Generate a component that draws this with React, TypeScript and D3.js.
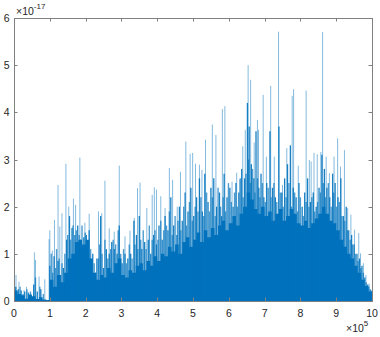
import React, { useEffect, useRef } from 'react';
import * as d3 from 'd3';

// x in units of 1e5 samples, y in units of 1e-17
const xTicks = [0, 1, 2, 3, 4, 5, 6, 7, 8, 9, 10];
const yTicks = [0, 1, 2, 3, 4, 5, 6];

// dense part of the signal, one level per 1e4 samples
const bodyLevels = [
  0.22, 0.15, 0.12, 0.05, 0.14, 0.1, 0.04, 0.08, 0.03, 0.02,
  0.45, 0.3, 0.55, 0.4, 0.6, 0.9, 1.0, 1.25, 1.3, 1.2,
  1.3, 0.9, 0.6, 0.45, 0.55, 0.5, 0.7, 0.6, 0.8, 0.9,
  0.55, 0.5, 0.65, 0.6, 0.75, 0.8, 0.65, 0.85, 0.75, 0.95,
  0.85, 1.0, 0.95, 1.15, 1.05, 1.2, 1.0, 1.25, 1.35, 1.15,
  1.3, 1.45, 1.25, 1.5, 1.35, 1.55, 1.4, 1.6, 1.7, 1.5,
  1.65, 1.8, 1.6, 1.85, 2.0, 2.3, 2.15, 1.95, 1.85, 2.0,
  1.8, 1.9, 1.7, 1.85, 1.95, 1.7, 1.8, 1.95, 1.85, 1.65,
  1.6, 1.7, 1.55, 1.65, 1.75, 1.85, 2.0, 1.85, 1.7, 1.65,
  1.5, 1.3, 1.15, 1.0, 0.9, 0.75, 0.6, 0.45, 0.32, 0.2,
];

// darker mid-height peaks
const midX = [
  0.05, 0.12, 0.2, 0.3, 0.4, 0.55, 0.65, 0.75,
  1.0, 1.12, 1.23, 1.3, 1.38, 1.47, 1.55, 1.62, 1.7, 1.78, 1.86, 1.95,
  2.02, 2.1, 2.2, 2.28, 2.35, 2.42, 2.5, 2.58, 2.66, 2.73, 2.8, 2.88, 2.94,
  3.02, 3.1, 3.18, 3.26, 3.35, 3.42, 3.5, 3.57, 3.65, 3.75, 3.82, 3.9, 3.98,
  4.05, 4.14, 4.22, 4.3, 4.38, 4.46, 4.55, 4.62, 4.7, 4.78, 4.86, 4.94,
  5.02, 5.1, 5.18, 5.26, 5.33, 5.42, 5.5, 5.58, 5.66, 5.74, 5.8, 5.87, 5.95,
  6.03, 6.12, 6.2, 6.28, 6.36, 6.44, 6.52, 6.57, 6.63, 6.7, 6.76, 6.84, 6.9, 6.98,
  7.06, 7.15, 7.22, 7.3, 7.4, 7.48, 7.56, 7.64, 7.72, 7.8, 7.88, 7.96,
  8.05, 8.12, 8.2, 8.28, 8.36, 8.44, 8.52, 8.6, 8.67, 8.74, 8.82, 8.9, 8.97,
  9.05, 9.13, 9.2, 9.28, 9.35, 9.43, 9.5, 9.58, 9.65, 9.72, 9.8, 9.88, 9.95,
];
const midY = [
  0.3, 0.25, 0.22, 0.2, 0.18, 0.35, 0.2, 0.25,
  0.75, 0.95, 0.85, 0.55, 0.7, 1.3, 1.8, 1.55, 1.4, 1.6, 1.3, 1.35,
  1.4, 1.5, 1.0, 0.6, 0.9, 1.8, 0.7, 1.1, 1.0, 1.25, 1.1, 1.0, 1.6,
  0.8, 1.0, 0.9, 1.0, 1.7, 1.4, 1.8, 1.1, 1.25, 1.3, 1.0, 1.4, 1.2,
  1.6, 1.3, 1.8, 1.5, 2.2, 1.6, 1.4, 2.0, 1.7, 2.3, 1.9, 2.4,
  1.8, 2.2, 2.6, 1.9, 2.7, 2.1, 2.4, 2.6, 2.0, 2.3, 1.8, 2.7, 2.2,
  2.4, 2.0, 2.5, 2.3, 2.8, 2.6, 4.2, 3.7, 2.9, 2.6, 3.6, 2.4, 2.7, 2.2,
  2.5, 3.6, 2.4, 2.2, 3.7, 2.3, 2.6, 2.9, 3.3, 2.4, 2.2, 2.5,
  2.0, 2.3, 2.6, 2.1, 2.3, 2.0, 2.4, 3.1, 2.8, 2.4, 2.2, 2.7, 2.5,
  2.2, 2.6, 1.8, 2.0, 1.5, 1.4, 1.2, 1.0, 0.9, 0.75, 0.5, 0.35, 0.25,
];

// in-between peaks that fill the busy middle band
const fillX = [
  0.08, 0.17, 0.25, 0.36, 0.46, 0.6, 0.72, 0.82,
  1.04, 1.08, 1.16, 1.19, 1.26, 1.34, 1.42, 1.5, 1.58, 1.65, 1.74, 1.82, 1.9, 1.99,
  2.06, 2.14, 2.24, 2.31, 2.39, 2.46, 2.54, 2.62, 2.7, 2.77, 2.84, 2.91, 2.98,
  3.06, 3.14, 3.22, 3.3, 3.38, 3.46, 3.54, 3.61, 3.69, 3.78, 3.86, 3.94,
  4.02, 4.1, 4.18, 4.26, 4.34, 4.42, 4.5, 4.58, 4.66, 4.74, 4.82, 4.9, 4.98,
  5.06, 5.14, 5.22, 5.3, 5.38, 5.46, 5.54, 5.62, 5.7, 5.77, 5.84, 5.91, 5.99,
  6.07, 6.16, 6.24, 6.32, 6.4, 6.48, 6.55, 6.6, 6.66, 6.73, 6.8, 6.87, 6.94,
  7.02, 7.1, 7.18, 7.26, 7.34, 7.44, 7.52, 7.6, 7.68, 7.75, 7.84, 7.92,
  8.0, 8.08, 8.16, 8.24, 8.32, 8.4, 8.48, 8.56, 8.64, 8.7, 8.78, 8.86, 8.93,
  9.01, 9.09, 9.16, 9.24, 9.31, 9.39, 9.46, 9.54, 9.61, 9.69, 9.76, 9.84, 9.91, 9.97,
];
const fillY = [
  0.2, 0.3, 0.15, 0.25, 0.2, 0.5, 0.3, 0.15,
  1.0, 0.6, 0.7, 1.1, 0.9, 0.8, 1.0, 1.4, 1.3, 1.6, 1.5, 1.4, 1.6, 1.45,
  1.2, 1.1, 0.8, 0.9, 1.2, 1.0, 1.3, 0.9, 1.1, 1.3, 1.2, 1.5, 1.0,
  1.1, 0.8, 1.2, 0.9, 1.2, 1.1, 1.3, 1.5, 1.1, 1.6, 1.3, 1.5,
  1.3, 1.7, 1.5, 1.6, 1.9, 1.4, 1.8, 1.7, 1.5, 2.0, 1.6, 2.1, 1.7,
  2.0, 1.9, 2.2, 1.8, 2.3, 1.9, 2.2, 1.8, 2.4, 2.0, 2.2, 1.9, 2.5,
  2.1, 2.3, 2.0, 2.6, 2.2, 2.7, 3.0, 2.5, 2.8, 2.3, 2.6, 2.2, 2.5,
  2.1, 2.4, 2.2, 2.5, 2.1, 2.3, 2.0, 2.2, 2.5, 2.0, 2.3, 1.9,
  2.2, 1.8, 2.1, 2.0, 2.2, 1.9, 2.1, 2.3, 2.5, 2.2, 2.5, 2.0, 2.3,
  2.0, 2.1, 1.8, 1.7, 1.5, 1.3, 1.2, 1.0, 0.85, 0.7, 0.6, 0.4, 0.3, 0.2,
];

// tall thin spikes
const peakX = [
  0.056, 0.14, 0.28, 0.35, 0.57, 0.6, 0.7, 0.86, 0.98, 1.0, 1.07, 1.13, 1.23, 1.28,
  1.34, 1.45, 1.53, 1.66, 1.72, 1.84, 1.98, 2.1, 2.36, 2.45, 2.54, 2.66, 2.8, 2.94,
  3.1, 3.24, 3.36, 3.45, 3.52, 3.71, 3.86, 3.92, 3.98, 4.1, 4.22, 4.34, 4.43, 4.56,
  4.65, 4.8, 4.92, 4.99, 5.07, 5.18, 5.25, 5.35, 5.54, 5.64, 5.82, 5.89, 6.09, 6.22,
  6.31, 6.39, 6.46, 6.54, 6.61, 6.71, 6.8, 6.83, 6.96, 7.05, 7.17, 7.27, 7.39, 7.5,
  7.62, 7.77, 7.81, 7.94, 8.16, 8.25, 8.3, 8.38, 8.47, 8.57, 8.62, 8.72, 8.81, 8.94,
  9.04, 9.12, 9.23, 9.32, 9.41, 9.51, 9.63, 9.68, 9.76, 9.83, 9.92, 9.98,
];
const peakY = [
  0.55, 0.41, 0.23, 0.3, 1.03, 0.87, 0.52, 0.46, 1.31, 1.5, 1.07, 1.72, 2.46, 1.58,
  1.86, 2.91, 2.0, 2.17, 2.04, 3.04, 1.66, 1.85, 1.9, 1.86, 2.55, 1.54, 1.47, 2.87,
  1.37, 1.49, 1.76, 2.39, 2.51, 1.97, 2.25, 2.41, 2.36, 2.22, 1.97, 2.82, 2.57, 2.0,
  2.74, 3.38, 3.12, 3.14, 2.91, 2.89, 2.78, 3.42, 3.74, 3.52, 4.07, 4.13, 2.53, 2.72,
  2.57, 3.28, 3.63, 5.0, 4.69, 3.36, 3.84, 3.63, 4.37, 3.06, 4.56, 3.06, 5.71, 2.46,
  3.24, 4.35, 4.49, 2.87, 4.46, 2.99, 2.96, 3.14, 3.11, 3.16, 5.7, 3.06, 2.71, 3.06,
  3.45, 2.85, 3.2, 1.97, 1.83, 1.51, 1.44, 1.01, 0.8, 0.55, 0.37, 0.23,
];

const W = 380;
const H = 337;
const box = { left: 14, right: 372, top: 18, bottom: 301 };
const BLUE = '#0072BD';
const AXIS = '#808080';
const FONT = 'Arial, "Liberation Sans", Helvetica, sans-serif';

const App = () => {
  const svgRef = useRef<SVGSVGElement>(null);

  useEffect(() => {
    const svg = d3.select(svgRef.current);
    svg.selectAll('*').remove();

    const x = d3.scaleLinear().domain([0, 10]).range([box.left, box.right]);
    const y = d3.scaleLinear().domain([0, 6]).range([box.bottom, box.top]);

    const plot = svg.append('g');

    // dense body
    const bodyPts: [number, number][] = bodyLevels.map((v, i) => [i * 0.1, v]);
    bodyPts.push([10, bodyLevels[bodyLevels.length - 1]]);
    const area = d3.area<[number, number]>()
      .curve(d3.curveStepAfter)
      .x(d => x(d[0]))
      .y0(y(0))
      .y1(d => y(d[1]));
    plot.append('path').datum(bodyPts).attr('d', area).attr('fill', BLUE);

    const spikes = (xs: number[], ys: number[], width: number, opacity: number) => {
      plot.append('g').selectAll('line')
        .data(xs.map((px, i) => [px, ys[i]]))
        .enter().append('line')
        .attr('x1', d => x(d[0])).attr('x2', d => x(d[0]))
        .attr('y1', y(0)).attr('y2', d => y(d[1]))
        .attr('stroke', BLUE).attr('stroke-width', width).attr('stroke-opacity', opacity);
    };

    spikes(peakX, peakY, 0.9, 0.55);   // tall light spikes
    spikes(fillX, fillY, 1.4, 0.7);
    spikes(midX, midY, 1.3, 0.9);

    // baseline
    plot.append('line')
      .attr('x1', x(0)).attr('x2', x(10)).attr('y1', y(0) - 0.5).attr('y2', y(0) - 0.5)
      .attr('stroke', BLUE).attr('stroke-width', 1.2);

    // box
    svg.append('rect')
      .attr('x', box.left + 0.5).attr('y', box.top + 0.5)
      .attr('width', box.right - box.left).attr('height', box.bottom - box.top)
      .attr('fill', 'none').attr('stroke', AXIS).attr('stroke-width', 1);

    const tl = 3.5;
    const ticks = svg.append('g').attr('stroke', AXIS).attr('stroke-width', 1);
    xTicks.forEach(t => {
      const px = Math.round(x(t)) + 0.5;
      ticks.append('line').attr('x1', px).attr('x2', px).attr('y1', box.bottom).attr('y2', box.bottom - tl);
      ticks.append('line').attr('x1', px).attr('x2', px).attr('y1', box.top).attr('y2', box.top + tl);
    });
    yTicks.forEach(t => {
      const py = Math.round(y(t)) + 0.5;
      ticks.append('line').attr('x1', box.left).attr('x2', box.left + tl).attr('y1', py).attr('y2', py);
      ticks.append('line').attr('x1', box.right).attr('x2', box.right - tl).attr('y1', py).attr('y2', py);
    });

    const labels = svg.append('g').attr('font-family', FONT).attr('font-size', 10.5).attr('fill', '#262626');
    xTicks.forEach(t => {
      labels.append('text').attr('x', x(t)).attr('y', 317).attr('text-anchor', 'middle').text(t);
    });
    yTicks.forEach(t => {
      labels.append('text').attr('x', 9.5).attr('y', y(t) + 4).attr('text-anchor', 'end').text(t);
    });

    // exponent labels
    const ey = labels.append('text').attr('x', 16).attr('y', 15);
    ey.append('tspan').text('\u00d710');
    ey.append('tspan').attr('dy', -6).attr('font-size', 8).text('-17');

    const ex = labels.append('text').attr('x', 346).attr('y', 332);
    ex.append('tspan').text('\u00d710');
    ex.append('tspan').attr('dy', -6).attr('font-size', 8).text('5');
  }, []);

  return (
    <svg ref={svgRef} width={W} height={H}
      style={{ position: 'absolute', left: 0, top: 0, background: '#fff' }} />
  );
};

export default App;
